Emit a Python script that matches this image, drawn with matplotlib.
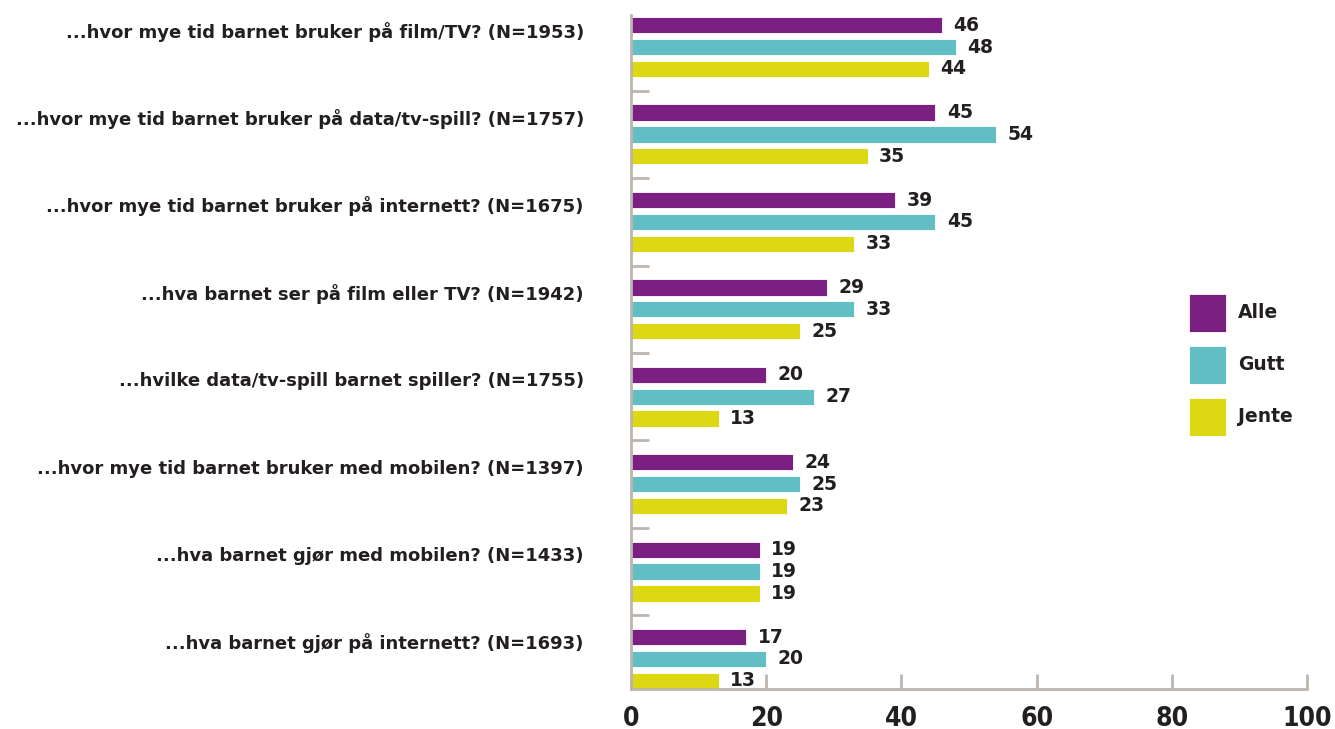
import matplotlib.pyplot as plt
from matplotlib.patches import Rectangle
import numpy as np

# Andel foreldre (%) som har regler for ...
questions = [
    "...hvor mye tid barnet bruker på film/TV? (N=1953)",
    "...hvor mye tid barnet bruker på data/tv-spill? (N=1757)",
    "...hvor mye tid barnet bruker på internett? (N=1675)",
    "...hva barnet ser på film eller TV? (N=1942)",
    "...hvilke data/tv-spill barnet spiller? (N=1755)",
    "...hvor mye tid barnet bruker med mobilen? (N=1397)",
    "...hva barnet gjør med mobilen? (N=1433)",
    "...hva barnet gjør på internett? (N=1693)",
]
alle = [46, 45, 39, 29, 20, 24, 19, 17]
gutt = [48, 54, 45, 33, 27, 25, 19, 20]
jente = [44, 35, 33, 25, 13, 23, 19, 13]
series_names = ["Alle", "Gutt", "Jente"]
colors = ["#7b1f82", "#62bec5", "#dcd912"]
x_ticks = [0, 20, 40, 60, 80, 100]

grey = "#bdb5ae"
text_col = "#231f20"

W, H = 1335, 729
fig = plt.figure(figsize=(W / 100, H / 100), dpi=100)
ax = fig.add_axes([0.4727, 0.0549, 0.5064, 0.9245])

y = np.arange(len(questions))
offsets = [-0.25, 0.0, 0.25]
for vals, off, col, name in zip([alle, gutt, jente], offsets, colors, series_names):
    bars = ax.barh(y + off, vals, height=0.185, color=col, label=name,
                   edgecolor="white", linewidth=0.6)
    for b, v in zip(bars, vals):
        ax.text(b.get_width() + 1.7, b.get_y() + b.get_height() / 2, str(v),
                va="center", ha="left", fontsize=13.5, fontweight="bold",
                color=text_col)

ax.set_xlim(0, 100)
ax.set_ylim(7.343, -0.366)

ax.set_xticks(x_ticks)
ax.set_xticklabels([str(t) for t in x_ticks], fontsize=19, fontweight="bold",
                   color=text_col, fontstretch="condensed")
ax.tick_params(axis="x", direction="in", length=11, width=2, color=grey, pad=12)

ax.set_yticks(y - 0.2)
ax.set_yticklabels(questions, fontsize=13, fontweight="bold", color=text_col)
ax.tick_params(axis="y", which="major", length=0, pad=34)
ax.set_yticks(y[:-1] + 0.5, minor=True)
ax.tick_params(axis="y", which="minor", direction="in", length=13, width=2,
               color=grey)

for side in ["top", "right"]:
    ax.spines[side].set_visible(False)
for side in ["left", "bottom"]:
    ax.spines[side].set_color(grey)
    ax.spines[side].set_linewidth(2)

# legend: coloured squares with labels to the right
for i, (name, col) in enumerate(zip(series_names, colors)):
    top = 294 + 52 * i
    fig.patches.append(Rectangle((1189 / W, 1 - (top + 38) / H), 37 / W, 38 / H,
                                 transform=fig.transFigure, facecolor=col,
                                 edgecolor="white", linewidth=0.6))
    fig.text(1238 / W, 1 - (top + 18) / H, name, ha="left", va="center",
             fontsize=13.5, fontweight="bold", color=text_col)

fig.savefig("out.png", dpi=100)
